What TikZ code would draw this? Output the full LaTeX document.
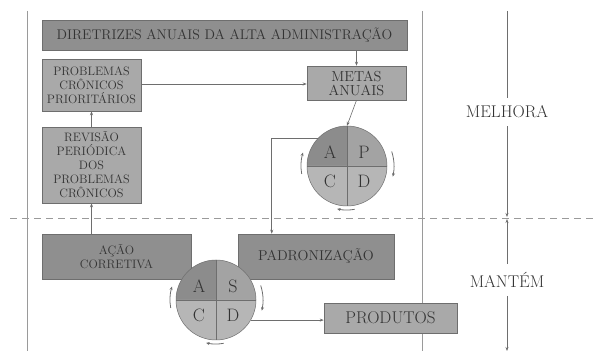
\documentclass[tikz,border=0pt]{standalone}
\usepackage{xcolor}
\usetikzlibrary{arrows.meta, positioning, calc}

\definecolor{caixaescura}{HTML}{8F8F8F}
\definecolor{caixaclara}{HTML}{A9A9A9}
\definecolor{borda}{HTML}{6E6E6E}
\definecolor{texto}{HTML}{333333}
\definecolor{quadA}{HTML}{8C8C8C}
\definecolor{quadB}{HTML}{A3A3A3}
\definecolor{quadC}{HTML}{B6B6B6}
\definecolor{guia}{HTML}{9A9A9A}

\tikzset{
    caixa/.style={draw=borda, line width=0.5pt, text=texto, align=center, inner sep=2pt,
        font=\rmfamily\fontsize{12.2}{14}\selectfont},
    caixa escura/.style={caixa, fill=caixaescura},
    caixa clara/.style={caixa, fill=caixaclara},
    seta/.style={draw=borda, line width=0.6pt, -{Stealth[length=4pt,width=3pt]}},
    ciclo/.style={draw=borda, line width=0.8pt, -{Stealth[length=3.5pt,width=3pt]}},
    letra/.style={text=texto, font=\rmfamily\fontsize{18}{18}\selectfont, inner sep=0pt},
    rotulo/.style={text=texto, font=\rmfamily\fontsize{17}{18}\selectfont, inner sep=8pt},
    linha guia/.style={draw=guia, line width=0.6pt},
}

\begin{document}
\begin{tikzpicture}[x=1pt,y=1pt]
\useasboundingbox (0,0) rectangle (598,351);

% Guide lines and divider
\draw[linha guia] (27,340) -- (27,0);
\draw[linha guia] (422,340) -- (422,0);
\draw[linha guia, dash pattern=on 7pt off 5pt, line width=0.8pt] (10,133) -- (598,133);

% Boxes
\node[caixa escura, minimum width=365pt, minimum height=30pt, font=\rmfamily\fontsize{14}{16}\selectfont]
    (diretrizes) at (224.5,316) {DIRETRIZES ANUAIS DA ALTA ADMINISTRAÇÃO};
\node[caixa clara, minimum width=99pt, minimum height=52pt]
    (problemas) at (91.5,266) {PROBLEMAS\\CRÔNICOS\\PRIORITÁRIOS};
\node[caixa clara, minimum width=99pt, minimum height=34pt, font=\rmfamily\fontsize{14.5}{14}\selectfont]
    (metas) at (356.5,268) {METAS\\ANUAIS};
\node[caixa clara, minimum width=99pt, minimum height=76pt]
    (revisao) at (91.5,186) {REVISÃO\\PERIÓDICA\\DOS\\PROBLEMAS\\CRÔNICOS};
\node[caixa escura, minimum width=149pt, minimum height=45pt]
    (acao) at (116.5,94.5) {AÇÃO\\CORRETIVA};
\node[caixa escura, minimum width=156pt, minimum height=45pt, font=\rmfamily\fontsize{14.3}{16}\selectfont]
    (padron) at (316,94.5) {PADRONIZAÇÃO};
\node[caixa clara, minimum width=133pt, minimum height=30pt, font=\rmfamily\fontsize{17}{18}\selectfont]
    (produtos) at (390.5,33) {PRODUTOS};

% PDCA circle
\node[circle, minimum size=80pt, inner sep=0pt] (pdca) at (347,185) {};
\foreach \ang/\cor in {0/quadB,90/quadA,180/quadC,270/quadC} {
    \fill[\cor] (pdca.center) -- ++(\ang:40) arc[start angle=\ang, delta angle=90, radius=40] -- cycle;
}
\draw[borda, line width=0.5pt] (pdca.center) circle (40);
\draw[borda, line width=0.5pt] (pdca.north) -- (pdca.south) (pdca.west) -- (pdca.east);
\node[letra] (pdcaA) at ([shift={(-17,14)}]pdca.center) {A};
\node[letra] (pdcaP) at ([shift={(17,14)}]pdca.center) {P};
\node[letra] (pdcaC) at ([shift={(-17,-15)}]pdca.center) {C};
\node[letra] (pdcaD) at ([shift={(17,-15)}]pdca.center) {D};

% SDCA circle
\node[circle, minimum size=80pt, inner sep=0pt] (sdca) at (216,51) {};
\foreach \ang/\cor in {0/quadB,90/quadA,180/quadC,270/quadC} {
    \fill[\cor] (sdca.center) -- ++(\ang:40) arc[start angle=\ang, delta angle=90, radius=40] -- cycle;
}
\draw[borda, line width=0.5pt] (sdca.center) circle (40);
\draw[borda, line width=0.5pt] (sdca.north) -- (sdca.south) (sdca.west) -- (sdca.east);
\node[letra] (sdcaA) at ([shift={(-17,14)}]sdca.center) {A};
\node[letra] (sdcaS) at ([shift={(17,14)}]sdca.center) {S};
\node[letra] (sdcaC) at ([shift={(-17,-15)}]sdca.center) {C};
\node[letra] (sdcaD) at ([shift={(17,-15)}]sdca.center) {D};

% Rotation arrows
\foreach \c in {pdca,sdca} {
    \draw[ciclo] ([shift={(18:47)}]\c.center) arc[start angle=18, end angle=-13, radius=47];
    \draw[ciclo] ([shift={(-80:44)}]\c.center) arc[start angle=-80, end angle=-103, radius=44];
    \draw[ciclo] ([shift={(190:46)}]\c.center) arc[start angle=190, end angle=163, radius=46];
}

% Connectors
\draw[seta] (metas.north |- diretrizes.south) -- (metas.north);
\draw[seta] (problemas.east |- 0,267) -- (metas.west |- 0,267);
\draw[seta] (revisao.north) -- (problemas.south);
\draw[seta] (revisao.south |- acao.north) -- (revisao.south);
\draw[seta] (metas.south) -- (pdca.north);
\draw[seta] (pdca.137) -| ([xshift=34pt]padron.north west);
\draw[seta] (sdca.-30) -- (sdca.-30 -| produtos.west);

% Improve / maintain scale
\node[rotulo] (melhora) at (507,239) {MELHORA};
\node[rotulo] (mantem) at (507,71) {MANTÉM};
\coordinate (topo) at (507,340);
\coordinate (meio) at (507,133);
\coordinate (base) at (507,0);
\draw[linha guia, draw=borda] (topo) -- (melhora.north);
\draw[seta] (melhora.south) -- ([yshift=1pt]meio);
\draw[seta] (mantem.north) -- ([yshift=-1pt]meio);
\draw[seta] (mantem.south) -- (base);
\end{tikzpicture}
\end{document}
